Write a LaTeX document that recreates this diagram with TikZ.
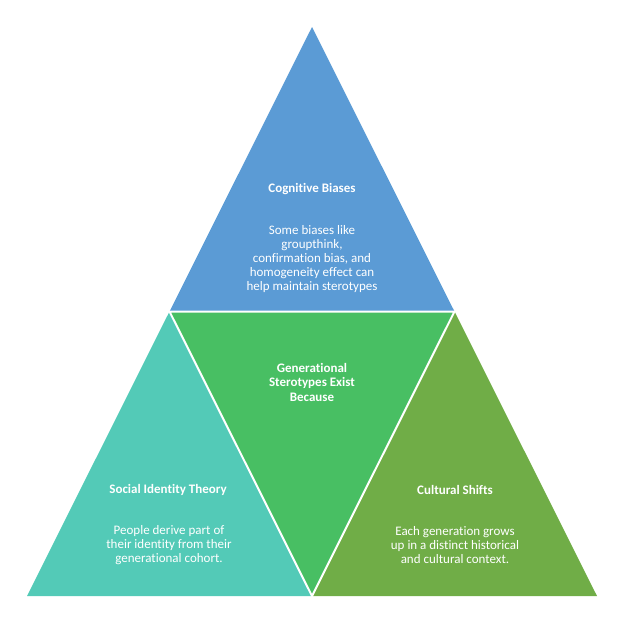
\documentclass[tikz,border=0pt]{standalone}
\usepackage{fontspec}
\setmainfont{Carlito}[Ligatures=NoCommon]
\usetikzlibrary{positioning}
\definecolor{biasblue}{HTML}{5B9BD5}
\definecolor{causegreen}{HTML}{48BF63}
\definecolor{identteal}{HTML}{53CAB7}
\definecolor{shiftgreen}{HTML}{70AD47}

\begin{document}
\begin{tikzpicture}[x=1pt, y=-1pt,
  body/.style={text=white, align=center, inner sep=0pt, font=\fontsize{13}{13.8}\selectfont},
  head/.style={body, font=\fontsize{13}{14.5}\selectfont\bfseries},
  seam/.style={draw=white, line width=2pt}]
  \useasboundingbox (0,0) rectangle (623,640);

  % Corners of the pyramid
  \coordinate (apex) at (312,27);
  \coordinate (bl) at (27,596);
  \coordinate (br) at (597,596);
  \coordinate (ml) at (169.5,311.5);
  \coordinate (mr) at (454.5,311.5);
  \coordinate (mb) at (312,596);

  % The four parts
  \fill[biasblue] (apex) -- (ml) -- (mr) -- cycle;
  \fill[causegreen] (ml) -- (mr) -- (mb) -- cycle;
  \fill[identteal] (ml) -- (bl) -- (mb) -- cycle;
  \fill[shiftgreen] (mr) -- (mb) -- (br) -- cycle;

  % White seams
  \draw[seam] (ml) -- (mr) -- (mb) -- cycle;

  % Top
  \node[head] (biashead) at (312,189) {Cognitive Biases};
  \node[body] (biastext) at (312,259) {Some biases like\\groupthink,\\confirmation bias, and\\homogeneity effect can\\help maintain sterotypes};

  % Centre
  \node[head] (cause) at (312,382) {Generational\\Sterotypes Exist\\Because};

  % Left
  \node[head] (identhead) at (168,490) {Social Identity Theory};
  \node[body] (identtext) at (169,545) {People derive part of\\their identity from their\\generational cohort.};

  % Right
  \node[head] (shifthead) at (455,490) {Cultural Shifts};
  \node[body] (shifttext) at (455,545) {Each generation grows\\up in a distinct historical\\and cultural context.};
\end{tikzpicture}
\end{document}
